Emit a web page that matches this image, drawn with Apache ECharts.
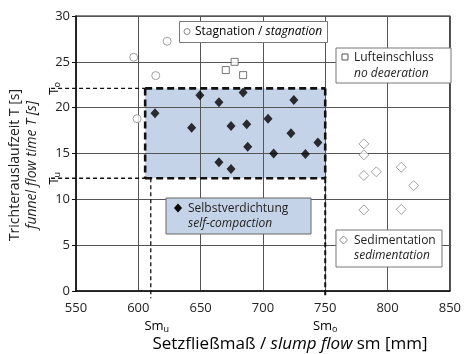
<!DOCTYPE html>
<html>
<head>
<meta charset="utf-8">
<script src="https://cdn.jsdelivr.net/npm/echarts@6/dist/echarts.min.js"></script>
<style>
html,body{margin:0;padding:0;background:#fff;}
#chart{width:464px;height:354px;}
</style>
</head>
<body>
<div id="chart"></div>
<script>
// ---- data ----
const xAxisRange = [550, 850, 50];
const yAxisRange = [0, 30, 5];
const selfCompaction = [[613.4,19.4],[649.4,21.35],[664.7,20.6],[684.1,21.65],[724.8,20.85],[704.1,18.8],[642.8,17.8],[674.4,18.0],[687,18.2],[722.5,17.2],[744.1,16.2],[687.8,15.75],[708.6,15.0],[734.1,14.95],[664.7,14.05],[674.4,13.3]];
const stagnation = [[596.3,25.5],[614,23.5],[599,18.8],[623.1,27.25]];
const noDeaeration = [[677.3,25.0],[670.2,24.1],[684.1,23.55]];
const sedimentation = [[781,16.05],[781,14.85],[781,12.6],[791,13.0],[811,13.5],[821,11.5],[781,8.85],[811,8.9]];
const smU = 610, smO = 750, tU = 12.3, tO = 22.1, boxLeft = 605.5;
const guideStartX = 530, guideEndY = -0.8;
const labelSmU = 'Sm', subSmU = 'u', labelSmO = 'Sm', subSmO = 'o';
const labelTU = 'T', subTU = 'u', labelTO = 'T', subTO = 'o';

const FONT = '"Open Sans", "Noto Sans", sans-serif';
const TXT = '#222';
const BLUE = '#c5d3e8';
const GREY = '#8a8a8a';

const chart = echarts.init(document.getElementById('chart'));

function subRich(size, subSize) {
  return {
    m: {fontSize: size, lineHeight: 16, fontFamily: FONT, color: TXT},
    s: {fontSize: subSize, lineHeight: subSize - 1, verticalAlign: 'bottom', fontFamily: FONT, color: TXT}
  };
}

const option = {
  animation: false,
  backgroundColor: '#fff',
  grid: {left: 76, right: 8, top: 16, bottom: 63, show: true, borderColor: '#111', borderWidth: 1.2, backgroundColor: 'transparent'},
  xAxis: {
    type: 'value', min: xAxisRange[0], max: xAxisRange[1], interval: xAxisRange[2],
    axisLine: {show: true, onZero: false, lineStyle: {color: '#111', width: 1.5}},
    axisTick: {show: false},
    axisLabel: {fontSize: 13, color: TXT, fontFamily: FONT, margin: 11},
    splitLine: {show: true, lineStyle: {color: '#555', width: 1}}
  },
  yAxis: {
    type: 'value', min: yAxisRange[0], max: yAxisRange[1], interval: yAxisRange[2],
    axisLine: {show: true, onZero: false, lineStyle: {color: '#111', width: 1.5}},
    axisTick: {show: true, length: 4, lineStyle: {color: '#111', width: 1}},
    axisLabel: {fontSize: 13, color: TXT, fontFamily: FONT, margin: 6},
    splitLine: {show: true, lineStyle: {color: '#555', width: 1}}
  },
  series: [
    {
      type: 'custom', z: -1, clip: false, silent: true,
      data: [[0]],
      renderItem: function (params, api) {
        const tl = api.coord([boxLeft, tO]), br = api.coord([smO, tU]);
        return {type: 'rect', shape: {x: tl[0], y: tl[1], width: br[0] - tl[0], height: br[1] - tl[1]}, style: {fill: BLUE}};
      }
    },
    {
      type: 'custom', z: 3, clip: false, silent: true,
      data: [[0]],
      renderItem: function (params, api) {
        const p = (x, y) => api.coord([x, y]);
        const thin = {stroke: '#111', lineWidth: 1.3, lineDash: [4, 3], fill: null};
        const thick = {stroke: '#111', lineWidth: 2.6, lineDash: [7, 4], fill: null};
        const seg = (a, b, st) => ({type: 'line', shape: {x1: a[0], y1: a[1], x2: b[0], y2: b[1]}, style: st});
        const ch = [];
        ch.push(seg(p(guideStartX, tO), p(boxLeft, tO), thin));
        ch.push(seg(p(guideStartX, tU), p(smU, tU), thin));
        ch.push(seg(p(smU, tU), p(smU, guideEndY), thin));
        ch.push(seg(p(boxLeft, tO), p(smO, tO), thick));
        ch.push(seg(p(boxLeft, tO), p(boxLeft, tU), thick));
        ch.push(seg(p(boxLeft, tU), p(smO, tU), thick));
        ch.push(seg(p(smO, tO), p(smO, tU), thick));
        ch.push(seg(p(smO, tU), p(smO, guideEndY), {stroke: '#111', lineWidth: 2, lineDash: [5, 3], fill: null}));
        const a = p(smU, 0), b = p(smO, 0);
        ch.push({type: 'text', x: a[0] + 6, y: a[1] + 35, style: {text: '{m|' + labelSmU + '}{s|' + subSmU + '}', rich: subRich(13, 9), align: 'center', verticalAlign: 'middle'}});
        ch.push({type: 'text', x: b[0], y: b[1] + 35, style: {text: '{m|' + labelSmO + '}{s|' + subSmO + '}', rich: subRich(13, 9), align: 'center', verticalAlign: 'middle'}});
        const c = p(xAxisRange[0], tO), d = p(xAxisRange[0], tU);
        ch.push({type: 'text', x: c[0] - 22, y: c[1], rotation: Math.PI / 2, style: {text: '{m|' + labelTO + '}{s|' + subTO + '}', rich: subRich(13, 9), align: 'center', verticalAlign: 'middle'}});
        ch.push({type: 'text', x: d[0] - 22, y: d[1], rotation: Math.PI / 2, style: {text: '{m|' + labelTU + '}{s|' + subTU + '}', rich: subRich(13, 9), align: 'center', verticalAlign: 'middle'}});
        return {type: 'group', children: ch};
      }
    },
    {
      name: 'Stagnation', type: 'scatter', z: 4, data: stagnation, symbol: 'circle', symbolSize: 8,
      itemStyle: {color: '#fff', borderColor: GREY, borderWidth: 1}
    },
    {
      name: 'Lufteinschluss', type: 'scatter', z: 4, data: noDeaeration, symbol: 'rect', symbolSize: 7,
      itemStyle: {color: '#fff', borderColor: '#555', borderWidth: 1}
    },
    {
      name: 'Selbstverdichtung', type: 'scatter', z: 4, data: selfCompaction, symbol: 'diamond', symbolSize: [9, 10],
      itemStyle: {color: '#000'}
    },
    {
      name: 'Sedimentation', type: 'scatter', z: 4, data: sedimentation, symbol: 'diamond', symbolSize: [10, 10],
      itemStyle: {color: '#fff', borderColor: GREY, borderWidth: 1}
    }
  ],
  graphic: [
    // Stagnation box
    {type: 'rect', z: 100, shape: {x: 179.5, y: 21.5, width: 148, height: 21}, style: {fill: '#fff', stroke: '#777', lineWidth: 1}},
    {type: 'circle', z: 101, shape: {cx: 187, cy: 31.5, r: 3}, style: {fill: '#fff', stroke: GREY, lineWidth: 1}},
    {type: 'text', z: 101, x: 195, y: 32, style: {text: '{n|Stagnation / }{i|stagnation}', rich: {n: {fontSize: 12, fontFamily: FONT, color: TXT}, i: {fontSize: 12, fontStyle: 'italic', fontFamily: FONT, color: TXT}}, verticalAlign: 'middle'}},
    // Lufteinschluss box
    {type: 'rect', z: 100, shape: {x: 336, y: 48, width: 115, height: 35}, style: {fill: '#fff', stroke: '#777', lineWidth: 1}},
    {type: 'rect', z: 101, shape: {x: 342, y: 54, width: 6, height: 6}, style: {fill: '#fff', stroke: '#555', lineWidth: 1}},
    {type: 'text', z: 101, x: 354, y: 58, style: {text: 'Lufteinschluss', fontSize: 12, fontFamily: FONT, fill: TXT, verticalAlign: 'middle'}},
    {type: 'text', z: 101, x: 354, y: 73.5, style: {text: 'no deaeration', fontSize: 12, fontStyle: 'italic', fontFamily: FONT, fill: TXT, verticalAlign: 'middle'}},
    // Selbstverdichtung box
    {type: 'rect', z: 100, shape: {x: 166, y: 198, width: 145, height: 36}, style: {fill: BLUE, stroke: '#666', lineWidth: 1}},
    {type: 'polygon', z: 101, shape: {points: [[178, 203.5], [182, 208], [178, 212.5], [174, 208]]}, style: {fill: '#000'}},
    {type: 'text', z: 101, x: 188, y: 208.5, style: {text: 'Selbstverdichtung', fontSize: 12, fontFamily: FONT, fill: TXT, verticalAlign: 'middle'}},
    {type: 'text', z: 101, x: 188, y: 224, style: {text: 'self-compaction', fontSize: 12, fontStyle: 'italic', fontFamily: FONT, fill: TXT, verticalAlign: 'middle'}},
    // Sedimentation box
    {type: 'rect', z: 100, shape: {x: 336, y: 230, width: 106, height: 37}, style: {fill: '#fff', stroke: '#777', lineWidth: 1}},
    {type: 'polygon', z: 101, shape: {points: [[343.5, 236], [347.5, 240], [343.5, 244], [339.5, 240]]}, style: {fill: '#fff', stroke: GREY, lineWidth: 1}},
    {type: 'text', z: 101, x: 354, y: 241, style: {text: 'Sedimentation', fontSize: 12, fontFamily: FONT, fill: TXT, verticalAlign: 'middle'}},
    {type: 'text', z: 101, x: 354, y: 256, style: {text: 'sedimentation', fontSize: 12, fontStyle: 'italic', fontFamily: FONT, fill: TXT, verticalAlign: 'middle'}},
    // Axis titles
    {type: 'text', z: 101, x: 15, y: 165, rotation: Math.PI / 2, style: {text: 'Trichterauslaufzeit T [s]', fontSize: 14, fontFamily: FONT, fill: TXT, align: 'center', verticalAlign: 'middle'}},
    {type: 'text', z: 101, x: 32, y: 165, rotation: Math.PI / 2, style: {text: 'funnel flow time T [s]', fontSize: 14, fontStyle: 'italic', fontFamily: FONT, fill: TXT, align: 'center', verticalAlign: 'middle'}},
    {type: 'text', z: 101, x: 290, y: 344, style: {text: '{n|Setzfließmaß / }{i|slump flow}{n| sm [mm]}', rich: {n: {fontSize: 17, fontFamily: FONT, color: TXT}, i: {fontSize: 17, fontStyle: 'italic', fontFamily: FONT, color: TXT}}, align: 'center', verticalAlign: 'middle'}}
  ]
};
chart.setOption(option);
</script>
</body>
</html>
